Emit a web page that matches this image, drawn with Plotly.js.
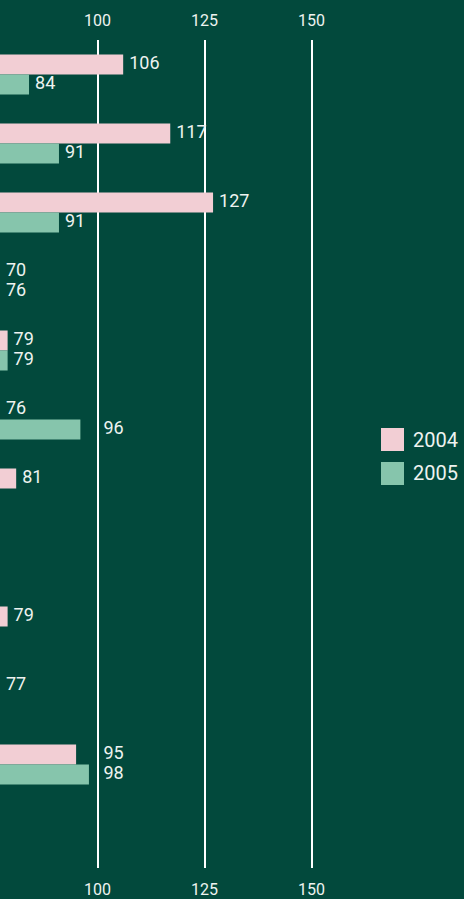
<!DOCTYPE html>
<html>
<head>
<meta charset="utf-8">
<script src="https://cdn.plot.ly/plotly-3.0.1.min.js"></script>
<style>html,body{margin:0;padding:0;background:#02493c;}</style>
</head>
<body>
<div id="chart" style="width:464px;height:899px;"></div>
<script>
// Data (category names lie outside the visible crop)
const categories = ["A","B","C","D","E","F","G","H","I","J","K","L"];
const series2004 = [106,117,127,70,79,76,81,null,79,77,95,null];
const series2005 = [84,91,91,76,79,96,null,null,null,null,98,null];
const seriesNames = ["2004","2005"];
const tickValues = [100,125,150];

const BG = "#02493c";
const PINK = "#f2ced4";
const GREEN = "#86c5ac";
const TXT = "#eef3f0";
const FONT = "Roboto, 'DejaVu Sans', sans-serif";

const XMIN = 77.22, XMAX = 161.33;
const LABEL_SPAN = 6; // approx label width in axis units

function labelAnchor(v){
  if (v === null) return null;
  let a = Math.max(v, XMIN);
  for (const g of tickValues){
    if (a < g && a + LABEL_SPAN > g) a = g;
  }
  return a;
}
function labels(vals){ return vals.map(v => v === null ? "" : String(v)); }

const colors = [PINK, GREEN];
const allSeries = [series2004, series2005];
const traces = [];
allSeries.forEach((vals, i) => {
  traces.push({
    type: "bar", orientation: "h", name: seriesNames[i],
    y: categories, x: vals,
    marker: {color: colors[i]},
    hoverinfo: "skip", showlegend: false
  });
});
allSeries.forEach((vals, i) => {
  traces.push({
    type: "scatter", mode: "markers+text", orientation: "h",
    y: categories, x: vals.map(labelAnchor),
    marker: {size: 8, color: "rgba(0,0,0,0)"},
    text: labels(vals), textposition: "middle right",
    textfont: {family: FONT, size: 18, color: TXT},
    cliponaxis: false, hoverinfo: "skip", showlegend: false
  });
});
// dummy trace so the bottom axis is drawn
traces.push({type:"scatter", mode:"markers", x:[null], y:[null], xaxis:"x2", yaxis:"y", showlegend:false, hoverinfo:"skip"});

const W = 360, PT = 40, PB = 31, H = 899 - PT - PB;
function px(x){ return x / W; }
function py(y){ return (899 - PB - y) / H; }

const shapes = [
  {type:"rect", xref:"paper", yref:"paper", x0:px(381), x1:px(404), y0:py(451), y1:py(428), fillcolor:PINK, line:{width:0}},
  {type:"rect", xref:"paper", yref:"paper", x0:px(381), x1:px(404), y0:py(485), y1:py(462), fillcolor:GREEN, line:{width:0}}
];
const annotations = [
  {xref:"paper", yref:"paper", x:px(411), y:py(440), xanchor:"left", yanchor:"middle", text:seriesNames[0], showarrow:false, font:{family:FONT, size:20, color:TXT}},
  {xref:"paper", yref:"paper", x:px(411), y:py(473), xanchor:"left", yanchor:"middle", text:seriesNames[1], showarrow:false, font:{family:FONT, size:20, color:TXT}}
];

const axisCommon = {
  range: [XMIN, XMAX], tickmode: "array", tickvals: tickValues,
  ticks: "", zeroline: false, showline: false, ticklabelstandoff: 10,
  tickfont: {family: FONT, size: 16, color: TXT}, fixedrange: true
};

const layout = {
  width: 464, height: 899,
  margin: {l: 0, r: 464 - W, t: PT, b: PB, pad: 0},
  paper_bgcolor: BG, plot_bgcolor: BG,
  barmode: "group", bargap: 0.42, bargroupgap: 0,
  scattermode: "group", scattergap: 0.42,
  showlegend: false,
  xaxis: Object.assign({}, axisCommon, {side: "top", showgrid: true, gridcolor: "#ffffff", gridwidth: 2}),
  xaxis2: Object.assign({}, axisCommon, {side: "bottom", overlaying: "x", anchor: "y", showgrid: false}),
  yaxis: {autorange: "reversed", showticklabels: false, ticks: "", showgrid: false, zeroline: false, showline: false, fixedrange: true},
  shapes: shapes, annotations: annotations
};

Plotly.newPlot("chart", traces, layout, {staticPlot: true, displayModeBar: false});
</script>
</body>
</html>
